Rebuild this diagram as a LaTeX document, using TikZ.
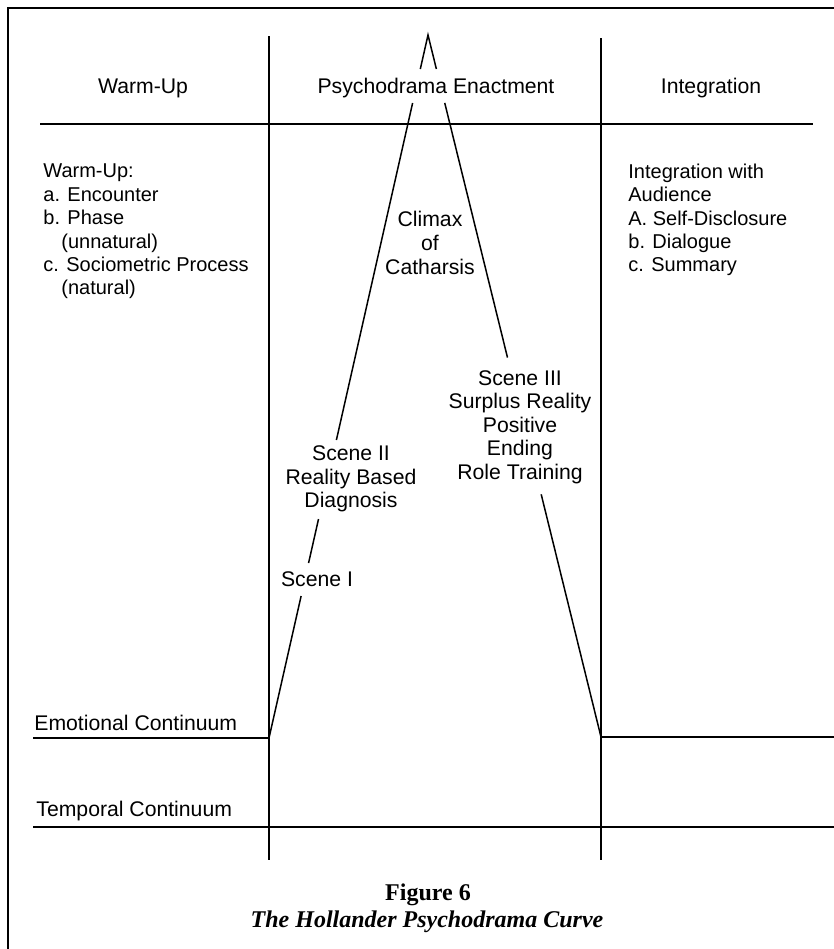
\documentclass[tikz,border=0pt]{standalone}
\usepackage{fontspec}
\setmainfont{Liberation Sans}
\newfontfamily\capfont{Liberation Serif}
\usetikzlibrary{calc}
\begin{document}
\begin{tikzpicture}[x=0.5pt,y=-0.5pt,
  ln/.style={line width=0.75pt},
  hdr/.style={font=\fontsize{10.6}{12}\selectfont, inner sep=0pt},
  lst/.style={font=\fontsize{10}{11.7}\selectfont, align=left, anchor=west, inner sep=0pt},
  lbl/.style={font=\fontsize{10.6}{11.8}\selectfont, align=center, inner sep=0pt},
  axl/.style={font=\fontsize{10.6}{12}\selectfont, anchor=west, inner sep=0pt},
  capb/.style={font=\capfont\bfseries\fontsize{12}{14}\selectfont, inner sep=0pt},
  capi/.style={font=\capfont\bfseries\itshape\fontsize{12}{14}\selectfont, inner sep=0pt}
]
\useasboundingbox (0,0) rectangle (834,949);
\fill[white] (0,0) rectangle (834,949);
% outer frame (top and left)
\coordinate (fTR) at (834,8);
\coordinate (fTL) at (8,8);
\coordinate (fBL) at (8,949);
\draw[ln] (fTR) -- (fTL) -- (fBL);
% column lines
\coordinate (v1t) at (269,36);  \coordinate (v1b) at (269,860);
\coordinate (v2t) at (601,38);  \coordinate (v2b) at (601,860);
\draw[ln] (v1t) -- (v1b);
\draw[ln] (v2t) -- (v2b);
% header rule
\coordinate (h1) at (40,124); \coordinate (h2) at (813,124);
\draw[ln] (h1) -- (h2);
% emotional continuum
\coordinate (eS) at (33,738);
\coordinate (eL) at (269,738);
\coordinate (eR) at (601,737);
\coordinate (eE) at (834,737);
\draw[ln] (eS) -- (eL);
\draw[ln] (eR) -- (eE);
% temporal continuum
\coordinate (tS) at (33,827); \coordinate (tE) at (834,827);
\draw[ln] (tS) -- (tE);
% curve
\coordinate (apex) at (428,35);
\draw[ln] ($(apex)!0.0484!(eL)$) -- (apex) -- ($(apex)!0.0484!(eR)$);
\draw[ln] ($(apex)!0.0967!(eL)$) -- ($(apex)!0.5761!(eL)$);
\draw[ln] ($(apex)!0.6885!(eL)$) -- ($(apex)!0.7511!(eL)$);
\draw[ln] ($(apex)!0.7980!(eL)$) -- (eL);
\draw[ln] ($(apex)!0.0967!(eR)$) -- ($(apex)!0.4595!(eR)$);
\draw[ln] ($(apex)!0.6543!(eR)$) -- (eR);
% headers
\node[hdr] (hw) at (143,88) {Warm-Up};
\node[hdr] (hp) at (436,88) {Psychodrama Enactment};
\node[hdr] (hi) at (711,88) {Integration};
% lists
\node[lst] (wl) at (43,231.5) {Warm-Up:\\a. Encounter\\b. Phase\\\hspace*{9pt}(unnatural)\\c. Sociometric Process\\\hspace*{9pt}(natural)};
\node[lst] (il) at (628,220) {Integration with\\Audience\\A. Self-Disclosure\\b. Dialogue\\c. Summary};
% curve labels
\node[lbl] (cl) at (430,243) {Climax\\of\\Catharsis};
\node[lbl] (s3) at (520,427) {Scene III\\Surplus Reality\\Positive\\Ending\\Role Training};
\node[lbl] (s2) at (351,479) {Scene II\\Reality Based\\Diagnosis};
\node[lbl] (s1) at (317,579) {Scene I};
% axis labels
\node[axl] (ec) at (34,723) {Emotional Continuum};
\node[axl] (tc) at (36,811) {Temporal Continuum};
% caption
\node[capb] (fg) at (428,895) {Figure 6};
\node[capi] (ft) at (427,922) {The Hollander Psychodrama Curve};
\end{tikzpicture}
\end{document}
